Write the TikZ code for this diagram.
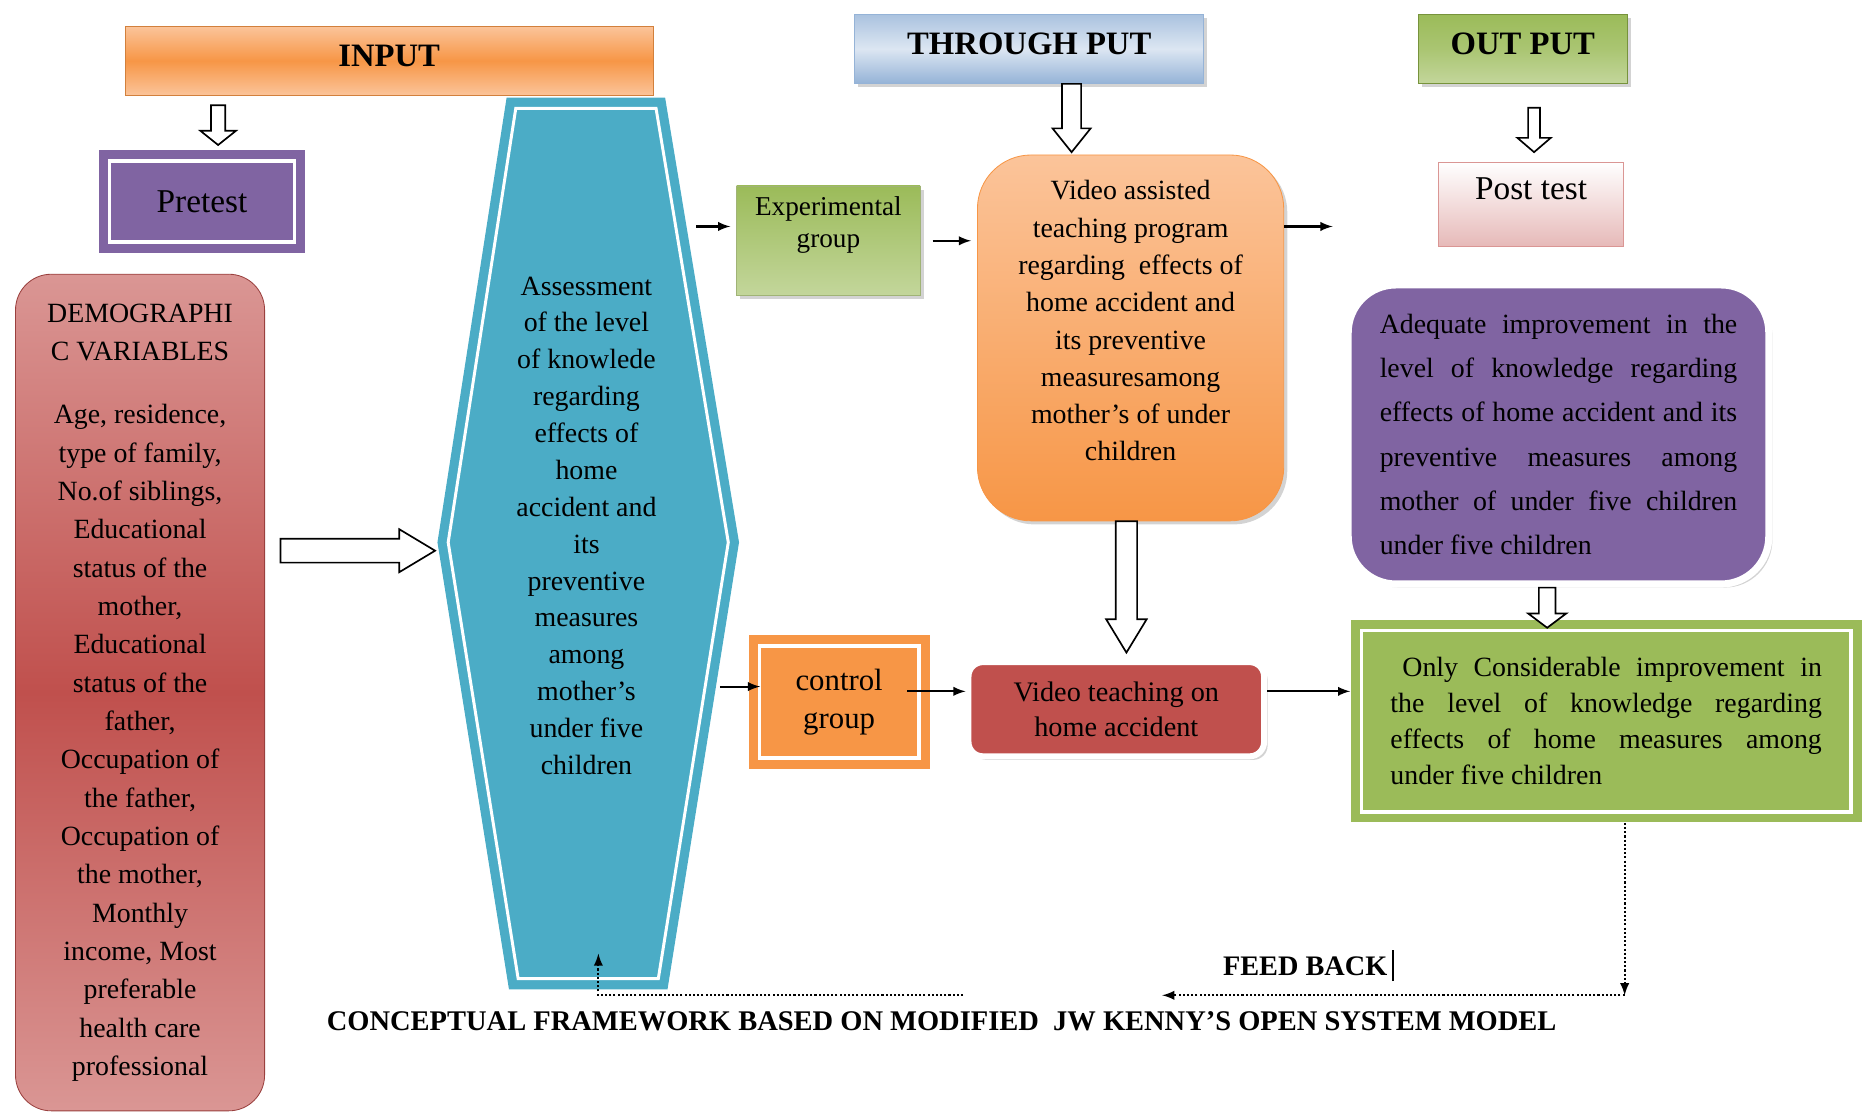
\documentclass[tikz,border=0pt]{standalone}
\usepackage{fontspec}
\setmainfont{Liberation Serif}
\usetikzlibrary{positioning,calc,arrows,shadows}

\definecolor{orng}{HTML}{F79646}
\definecolor{orlt}{HTML}{FBC49A}
\definecolor{blu}{HTML}{95B3D7}
\definecolor{blult}{HTML}{DCE6F2}
\definecolor{grn}{HTML}{9BBB59}
\definecolor{grnlt}{HTML}{C3D69B}
\definecolor{grndk}{HTML}{77933C}
\definecolor{purp}{HTML}{8064A2}
\definecolor{hexcol}{HTML}{4BACC6}
\definecolor{rd}{HTML}{C0504D}
\definecolor{rdlt}{HTML}{DA9694}
\definecolor{pstcol}{HTML}{E6B9B8}

\begin{document}
\begin{tikzpicture}[x=0.02cm,y=-0.02cm,
title/.style={font=\fontsize{15.6}{18}\selectfont\bfseries, minimum height=1.16cm, inner sep=2pt, text height=0.38cm, text depth=0.2cm},
body/.style={font=\fontsize{13.3}{17.6}\selectfont, inner sep=0pt},
framed/.style={path picture={\draw[white,line width=0.06cm]
  ([shift={(0.18cm,0.18cm)}]path picture bounding box.south west) rectangle
  ([shift={(-0.18cm,-0.18cm)}]path picture bounding box.north east);}},
dshadow/.style={drop shadow={opacity=0.35,shadow xshift=0.06cm,shadow yshift=-0.06cm}},
arr/.style={-latex, line width=1pt},
fb/.style={-latex, densely dotted, line width=1pt},
hollow/.style n args={3}{draw, fill=white, line width=0.8pt,
  to path={let \p1=($(\tikztotarget)!#3!(\tikztostart)$) in
  ($(\tikztostart)!#1!90:(\tikztotarget)$) -- ($(\p1)!#1!90:(\tikztotarget)$)
  -- ($(\p1)!#2!90:(\tikztotarget)$) -- (\tikztotarget)
  -- ($(\p1)!#2!-90:(\tikztotarget)$) -- ($(\p1)!#1!-90:(\tikztotarget)$)
  -- ($(\tikztostart)!#1!-90:(\tikztotarget)$) -- cycle}}
]
\useasboundingbox (0,0) rectangle (1568,935);

\node[title, draw=orng!85!black, top color=orlt, bottom color=orlt, middle color=orng, minimum width=8.86cm] (inp) at (326.5,51) {INPUT};
\node[title, draw=blu, top color=blu!80, bottom color=blu, middle color=blult, minimum width=5.86cm, dshadow] (thr) at (863.5,41) {THROUGH PUT};
\node[title, draw=grndk, top color=grn, bottom color=grnlt, middle color=grn!85!white, minimum width=3.5cm, dshadow] (outp) at (1277.5,41) {OUT PUT};

\node[framed, fill=purp, minimum width=3.46cm, minimum height=1.72cm, font=\fontsize{15.9}{18}\selectfont] (pre) at (169.5,169) {Pretest};

\node[body, draw=rd!80!black, rounded corners=0.6cm, top color=rdlt, bottom color=rdlt, middle color=rd, minimum width=4.18cm, minimum height=14.04cm, align=center, font=\fontsize{13.3}{18.3}\selectfont] (dem) at (117.5,581)
 {DEMOGRAPHI\\C VARIABLES\\[12pt]Age, residence,\\type of family,\\No.of siblings,\\Educational\\status of the\\mother,\\Educational\\status of the\\father,\\Occupation of\\the father,\\Occupation of\\the mother,\\Monthly\\income, Most\\preferable\\health care\\professional};

\fill[hexcol] (425,82) -- (558,82) -- (620,455) -- (560,830) -- (427,830) -- (367,455) coordinate (hexL) -- cycle;
\draw[white, line width=0.05cm] (432.7,91) -- (550.4,91) -- (611,455) -- (552.3,821) -- (434.7,821) -- (376,455) -- cycle;
\node[body, align=center] (assess) at (492,441) {Assessment\\of the level\\of knowlede\\regarding\\effects of\\home\\accident and\\its\\preventive\\measures\\among\\mother's\\under five\\children};

\node[body, draw=grndk!70, top color=grn, bottom color=grnlt, minimum width=3.08cm, minimum height=1.84cm, dshadow, font=\fontsize{13}{15.3}\selectfont] (exp) at (695,202)
 {\parbox[c][1.48cm][t]{3cm}{\centering Experimental\\group}};

\node[body, draw=orng, rounded corners=0.9cm, top color=orlt, bottom color=orng, minimum width=5.14cm, minimum height=6.14cm, dshadow, font=\fontsize{13.3}{17.8}\selectfont] (vas) at (948.5,283.5)
 {\parbox[c][5.28cm][t]{5cm}{\centering Video assisted\\teaching program\\regarding~ effects of\\home accident and\\its preventive\\measuresamong\\mother's of under\\children}};

\node[body, draw=rdlt, top color=white, bottom color=pstcol, minimum width=3.1cm, minimum height=1.42cm, font=\fontsize{15.9}{18}\selectfont] (pst) at (1284.5,171.5)
 {\parbox[c][0.9cm][t]{3cm}{\centering Post test}};

\node[body, draw=white, line width=0.12cm, rounded corners=0.8cm, fill=purp, minimum width=7.06cm, minimum height=5.02cm, dshadow, font=\fontsize{13.3}{21.2}\selectfont] (adq) at (1307.5,364.5)
 {\parbox{6cm}{Adequate improvement in the\linebreak level of knowledge regarding\linebreak effects of home accident and its\linebreak preventive measures among\linebreak mother of under five children\linebreak under five children}};

\node[body, framed, fill=orng, minimum width=3.04cm, minimum height=2.24cm, align=center, font=\fontsize{14.7}{18}\selectfont] (ctl) at (704,589) {control\\group};

\node[body, draw=white, line width=0.1cm, rounded corners=0.24cm, fill=rd, minimum width=4.96cm, minimum height=1.58cm, align=center, dshadow, font=\fontsize{13.5}{17}\selectfont] (vtc) at (936.5,595) {Video teaching on\\home accident};

\node[body, framed, fill=grn, minimum width=8.58cm, minimum height=3.4cm, font=\fontsize{13.3}{17.2}\selectfont] (cons) at (1347.5,605)
 {\parbox{7.24cm}{\hspace*{0.2cm}Only Considerable improvement in\linebreak the level of knowledge regarding\linebreak effects of home measures among\linebreak under five children}};

\node[font=\fontsize{13.5}{16}\selectfont\bfseries] (fbk) at (1098,810) {FEED BACK\,\rule[-0.2em]{1.2pt}{1.1em}};
\node[font=\fontsize{13.6}{16}\selectfont\bfseries] (cap) at (790,857) {CONCEPTUAL FRAMEWORK BASED ON MODIFIED~ JW KENNY'S OPEN SYSTEM MODEL};

\draw[hollow={0.12cm}{0.3cm}{0.24cm}] ([xshift=-2.87cm,yshift=-0.16cm]inp.south) to ([xshift=0.27cm,yshift=0.08cm]pre.north);
\draw[hollow={0.16cm}{0.32cm}{0.4cm}] ([xshift=0.71cm]thr.south) to ([xshift=-0.99cm,yshift=0.04cm]vas.north);
\draw[hollow={0.1cm}{0.28cm}{0.24cm}] ([xshift=0.19cm,yshift=-0.4cm]outp.south) to ([xshift=0.05cm,yshift=0.16cm]pst.north);
\draw[hollow={0.2cm}{0.36cm}{0.6cm}] ([xshift=0.26cm,yshift=2.38cm]dem.east) to ([xshift=-0.04cm,yshift=-0.14cm]hexL);
\draw[hollow={0.18cm}{0.34cm}{0.56cm}] ([xshift=-0.07cm]vas.south) to ([xshift=0.17cm,yshift=0.11cm]vtc.north);
\draw[hollow={0.14cm}{0.32cm}{0.24cm}] ([xshift=-0.19cm]adq.south) to ([xshift=-0.99cm,yshift=-0.14cm]cons.north);

\coordinate (hx1) at (584,190);
\coordinate (hx2) at (604,576);
\coordinate (vo) at (1118,190);
\coordinate (c1) at (761,580);
\draw[arr, shorten >=1mm] (hx1) -- (exp.west |- hx1);
\draw[arr, shorten <=2mm, shorten >=1mm] (exp.east) -- (vas.west |- exp.east);
\draw[arr] (vas.east |- vo) -- (vo);
\draw[arr, shorten >=-2mm] (hx2) -- (ctl.west |- hx2);
\draw[arr] (c1) -- (vtc.west |- c1);
\draw[arr] (vtc.east |- c1) -- (cons.west |- c1);

\coordinate (fbr) at (1363,835);
\coordinate (fbm) at (975,835);
\coordinate (fbl) at (808,835);
\coordinate (fbt) at (502,800);
\draw[fb] (cons.south -| fbr) -- (fbr);
\draw[fb] (fbr) -- (fbm);
\draw[fb] (fbl) -| (fbt);
\end{tikzpicture}
\end{document}
